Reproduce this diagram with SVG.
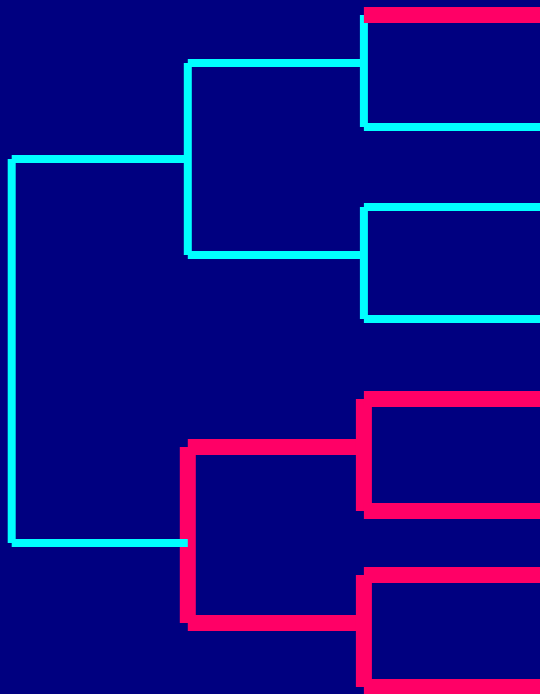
<svg xmlns="http://www.w3.org/2000/svg" width="540" height="694" viewBox="0 0 540 694">
<style>
.c{stroke:#00ffff;stroke-width:8;fill:none;stroke-linecap:butt}
.r{stroke:#ff0066;stroke-width:16;fill:none;stroke-linecap:butt}
</style>
<rect width="540" height="694" fill="#000080"/>
<g id="connectors">
<g id="node-b">
<line class="r" x1="187.8" y1="447" x2="187.8" y2="623"/>
<line class="r" x1="187.8" y1="447" x2="363.9" y2="447"/>
<line class="r" x1="187.8" y1="623" x2="363.9" y2="623"/>
</g>
<g id="node-b1">
<line class="r" x1="363.9" y1="399" x2="363.9" y2="511"/>
<line class="r" x1="363.9" y1="399" x2="540" y2="399"/>
<line class="r" x1="363.9" y1="511" x2="540" y2="511"/>
</g>
<g id="node-b2">
<line class="r" x1="363.9" y1="575" x2="363.9" y2="687"/>
<line class="r" x1="363.9" y1="575" x2="540" y2="575"/>
<line class="r" x1="363.9" y1="687" x2="540" y2="687"/>
</g>
<g id="node-root">
<line class="c" x1="11.7" y1="159" x2="11.7" y2="543"/>
<line class="c" x1="11.7" y1="159" x2="187.8" y2="159"/>
<line class="c" x1="11.7" y1="543" x2="187.8" y2="543"/>
</g>
<g id="node-a">
<line class="c" x1="187.8" y1="63" x2="187.8" y2="255"/>
<line class="c" x1="187.8" y1="63" x2="363.9" y2="63"/>
<line class="c" x1="187.8" y1="255" x2="363.9" y2="255"/>
</g>
<g id="node-a2">
<line class="c" x1="363.9" y1="207" x2="363.9" y2="319"/>
<line class="c" x1="363.9" y1="207" x2="540" y2="207"/>
<line class="c" x1="363.9" y1="319" x2="540" y2="319"/>
</g>
<g id="node-a1">
<line class="c" x1="363.9" y1="15" x2="363.9" y2="127"/>
<line class="c" x1="363.9" y1="127" x2="540" y2="127"/>
<line class="r" x1="363.9" y1="15" x2="540" y2="15"/>
</g>
</g>
</svg>
